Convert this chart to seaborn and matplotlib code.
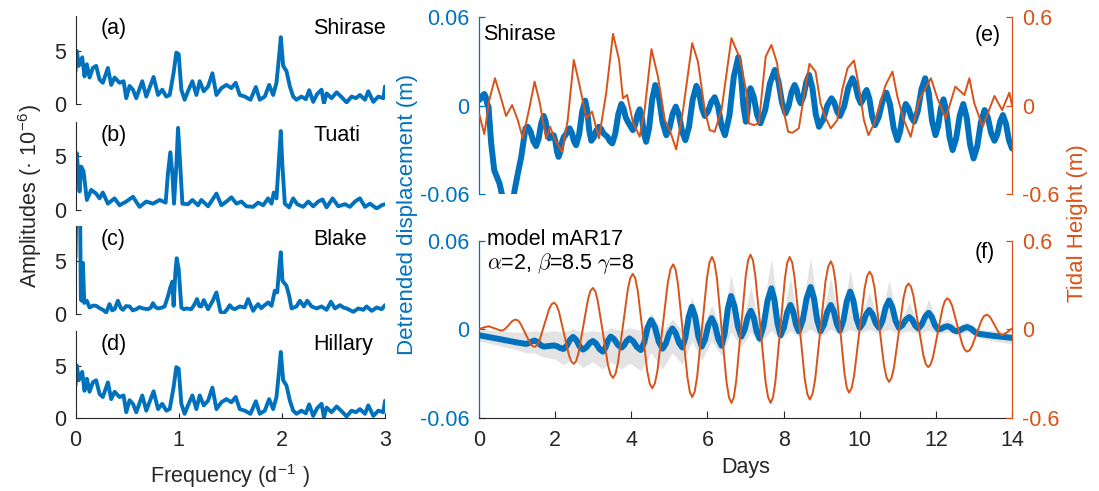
import matplotlib
matplotlib.use("Agg")
import matplotlib.pyplot as plt
import seaborn as sns

sns.set_style("white")
plt.rcParams["font.family"] = ["Liberation Sans", "DejaVu Sans"]
plt.rcParams["mathtext.fontset"] = "cm"
plt.rcParams["lines.solid_joinstyle"] = "round"
plt.rcParams["lines.solid_capstyle"] = "round"

BLUE = "#0072BD"
ORANGE = "#D95319"
AXC = "#262626"
BAND = "#E3E3E3"
FS = 15.5

# ---------------- spectra (frequency in 1/day, amplitude x1e-6) ----------------
shirase_freq = [0.0, 0.013, 0.032, 0.065, 0.087, 0.11, 0.136, 0.168, 0.2, 0.233, 0.265, 0.314, 0.346,
                0.379, 0.427, 0.466, 0.492, 0.524, 0.557, 0.589, 0.647, 0.686, 0.757, 0.8, 0.841, 0.88,
                0.913, 0.951, 0.977, 1.0, 1.026, 1.058, 1.09, 1.133, 1.172, 1.204, 1.243, 1.285, 1.327,
                1.366, 1.414, 1.463, 1.511, 1.553, 1.592, 1.641, 1.696, 1.748, 1.786, 1.835, 1.877,
                1.916, 1.948, 1.974, 1.99, 2.013, 2.045, 2.078, 2.11, 2.142, 2.19, 2.233, 2.265, 2.304,
                2.343, 2.385, 2.408, 2.434, 2.482, 2.531, 2.579, 2.628, 2.676, 2.718, 2.757, 2.806,
                2.838, 2.887, 2.935, 2.984, 3.0]
shirase_amp = [3.1, 5.0, 3.6, 4.4, 2.6, 3.75, 2.5, 3.4, 3.6, 2.3, 2.0, 3.4, 1.8,
               2.5, 2.0, 2.15, 0.55, 1.7, 1.35, 0.55, 2.15, 0.7, 2.55, 0.85, 1.35, 0.7,
               0.85, 2.95, 4.85, 4.7, 1.35, 0.4, 1.2, 2.15, 0.85, 2.15, 1.2, 1.65, 2.9,
               0.85, 1.5, 1.8, 1.5, 2.0, 0.85, 0.7, 0.4, 1.6, 0.4, 0.7, 1.8,
               0.85, 2.0, 4.55, 6.3, 3.6, 3.1, 1.65, 0.7, 0.4, 0.7, 0.45, 1.3, 0.2,
               0.95, 1.35, 0.05, 1.0, 0.55, 1.1, 0.65, 0.15, 0.7, 0.55, 0.85, 0.4,
               1.2, 0.2, 0.7, 0.55, 1.65]

tuati_freq = [0.0, 0.013, 0.039, 0.055, 0.078, 0.11, 0.152, 0.2, 0.233, 0.265, 0.314, 0.379, 0.427,
              0.492, 0.557, 0.621, 0.686, 0.751, 0.816, 0.874, 0.896, 0.919, 0.939, 0.955, 0.977,
              0.994, 1.016, 1.036, 1.091, 1.133, 1.188, 1.22, 1.285, 1.366, 1.414, 1.463, 1.511,
              1.56, 1.608, 1.657, 1.722, 1.77, 1.819, 1.867, 1.9, 1.922, 1.948, 1.974, 1.99, 2.006,
              2.029, 2.071, 2.11, 2.149, 2.207, 2.256, 2.304, 2.353, 2.395, 2.434, 2.492, 2.547,
              2.612, 2.66, 2.709, 2.757, 2.806, 2.854, 2.919, 2.968, 3.0]
tuati_amp = [3.4, 5.3, 1.7, 4.05, 3.6, 0.9, 1.85, 1.5, 1.05, 1.6, 0.55, 1.05, 0.4,
             0.75, 1.2, 0.25, 0.75, 0.55, 0.9, 0.65, 3.4, 5.4, 3.4, 0.55, 4.05,
             7.7, 4.05, 0.55, 0.5, 0.9, 0.4, 0.9, 0.3, 1.5, 0.4, 0.75, 1.15,
             0.55, 0.75, 0.3, 0.25, 0.65, 0.4, 1.05, 0.55, 1.6, 1.05, 5.0, 7.4, 4.05,
             0.55, 0.2, 1.05, 0.5, 0.25, 0.75, 0.3, 0.75, 0.95, 0.2, 1.05, 0.3,
             0.5, 0.25, 0.75, 1.05, 0.25, 0.55, 0.1, 0.4, 0.5]

blake_freq = [0.0, 0.006, 0.045, 0.052, 0.062, 0.072, 0.085, 0.11, 0.136, 0.17, 0.2, 0.235, 0.265,
              0.298, 0.33, 0.355, 0.379, 0.411, 0.44, 0.46, 0.49, 0.524, 0.555, 0.589, 0.62, 0.654,
              0.702, 0.73, 0.751, 0.775, 0.8, 0.835, 0.864, 0.896, 0.919, 0.939, 0.951, 0.968,
              0.981, 1.0, 1.026, 1.05, 1.074, 1.123, 1.15, 1.178, 1.2, 1.22, 1.243, 1.285, 1.33,
              1.366, 1.405, 1.437, 1.47, 1.495, 1.52, 1.544, 1.592, 1.641, 1.673, 1.722, 1.745,
              1.77, 1.8, 1.819, 1.867, 1.9, 1.932, 1.955, 1.974, 1.99, 2.006, 2.045, 2.071, 2.094,
              2.142, 2.175, 2.214, 2.246, 2.288, 2.337, 2.385, 2.434, 2.476, 2.515, 2.563, 2.6,
              2.628, 2.693, 2.741, 2.79, 2.822, 2.871, 2.919, 2.968, 3.0]
blake_amp = [5.3, 9.0, 9.0, 1.3, 1.2, 4.8, 1.0, 1.2, 0.57, 0.75, 0.73, 0.5, 0.35,
             0.1, 0.89, 0.3, 0.41, 1.21, 0.5, 0.35, 0.7, 0.67, 0.3, 0.41, 0.6, 0.48,
             0.41, 0.55, 0.98, 0.6, 0.48, 0.55, 0.67, 1.62, 2.48, 3.02, 0.73, 3.9,
             5.24, 4.22, 0.57, 0.4, 0.48, 0.41, 0.8, 1.37, 0.7, 0.67, 1.27, 0.41, 1.2,
             2.0, 0.16, 0.03, 0.4, 0.79, 0.5, 0.41, 0.67, 0.57, 1.37, 0.25, 0.6,
             0.89, 0.5, 0.67, 1.05, 0.73, 2.16, 2.0, 4.22, 5.81, 3.11, 2.63, 1.68, 0.48,
             0.67, 1.21, 0.67, 1.21, 0.67, 0.48, 0.67, 0.35, 1.11, 0.48, 0.79, 0.55,
             0.48, 0.16, 0.48, 0.35, 0.67, 0.25, 0.57, 0.41, 0.79]

hillary_freq = list(shirase_freq)
hillary_amp = list(shirase_amp)

spec_names = ["Shirase", "Tuati", "Blake", "Hillary"]
spec_tags = ["(a)", "(b)", "(c)", "(d)"]
spec_freqs = [shirase_freq, tuati_freq, blake_freq, hillary_freq]
spec_amps = [shirase_amp, tuati_amp, blake_amp, hillary_amp]

# ---------------- (e) observed Shirase ----------------
obs_days = [0.0, 0.047, 0.093, 0.14, 0.177, 0.213, 0.25, 0.32, 0.40, 0.54,
            0.62, 0.75, 0.88, 0.93, 1.02, 1.11, 1.22, 1.28, 1.353, 1.427,
            1.50, 1.567, 1.633, 1.70, 1.75, 1.80, 1.85, 1.96, 2.003, 2.047,
            2.09, 2.137, 2.183, 2.23, 2.28, 2.33, 2.38, 2.437, 2.493, 2.55,
            2.63, 2.71, 2.79, 2.843, 2.897, 2.95, 3.017, 3.083, 3.15, 3.207,
            3.263, 3.32, 3.38, 3.44, 3.50, 3.58, 3.66, 3.74, 3.797, 3.853,
            3.91, 4.04, 4.10, 4.16, 4.22, 4.277, 4.333, 4.39, 4.47, 4.55,
            4.63, 4.727, 4.823, 4.92, 5.003, 5.087, 5.17, 5.253, 5.337, 5.42,
            5.517, 5.613, 5.71, 5.783, 5.857, 5.93, 6.017, 6.103, 6.19, 6.28,
            6.37, 6.46, 6.577, 6.693, 6.81, 6.877, 6.943, 7.01, 7.05, 7.09,
            7.13, 7.217, 7.303, 7.39, 7.517, 7.643, 7.77, 7.863, 7.957, 8.05,
            8.13, 8.21, 8.29, 8.343, 8.397, 8.45, 8.523, 8.597, 8.67, 8.757,
            8.843, 8.93, 9.04, 9.15, 9.26, 9.333, 9.407, 9.48, 9.59, 9.70,
            9.81, 9.883, 9.957, 10.03, 10.08, 10.13, 10.18, 10.253, 10.327, 10.40,
            10.50, 10.60, 10.70, 10.797, 10.893, 10.99, 11.063, 11.137, 11.21, 11.283,
            11.357, 11.43, 11.527, 11.623, 11.72, 11.81, 11.90, 11.99, 12.06, 12.13,
            12.20, 12.28, 12.36, 12.44, 12.533, 12.627, 12.72, 12.81, 12.90, 12.99,
            13.087, 13.183, 13.28, 13.367, 13.453, 13.54, 13.613, 13.687, 13.76, 13.84,
            13.92, 14.0]
obs_disp = [0.0039, 0.0049, 0.0070, 0.0080, 0.0059, 0.0016, -0.0006, -0.0255, -0.0437, -0.0527,
            -0.062, -0.075, -0.068, -0.058, -0.046, -0.0346, -0.0153, -0.0142, -0.0175, -0.0240,
            -0.0273, -0.0222, -0.0120, -0.0069, -0.0107, -0.0183, -0.0221, -0.0199, -0.0236, -0.0309,
            -0.0346, -0.0312, -0.0244, -0.0210, -0.0196, -0.0167, -0.0153, -0.0182, -0.0239, -0.0267,
            -0.0192, -0.0041, 0.0035, -0.0033, -0.0169, -0.0237, -0.0213, -0.0166, -0.0142, -0.0156,
            -0.0185, -0.0199, -0.0213, -0.0241, -0.0255, -0.0188, -0.0055, 0.0012, -0.0018, -0.0078,
            -0.0108, -0.0165, -0.0130, -0.0059, -0.0024, -0.0079, -0.0189, -0.0244, -0.0148, 0.0045,
            0.0141, 0.0056, -0.0114, -0.0199, -0.0151, -0.0054, -0.0006, -0.0063, -0.0176, -0.0233,
            -0.0141, 0.0043, 0.0135, 0.0084, -0.0018, -0.0069, -0.0037, 0.0026, 0.0058, -0.0006,
            -0.0135, -0.0199, -0.0067, 0.0198, 0.0330, 0.0221, 0.0002, -0.0108, -0.0051, 0.0062,
            0.0119, 0.0060, -0.0060, -0.0119, -0.0029, 0.0153, 0.0243, 0.0170, 0.0023, -0.0051,
            -0.0003, 0.0093, 0.0141, 0.0110, 0.0048, 0.0017, 0.0065, 0.0161, 0.0209, 0.0121,
            -0.0054, -0.0142, -0.0094, 0.0003, 0.0051, 0.0021, -0.0039, -0.0069, -0.0005, 0.0123,
            0.0187, 0.0145, 0.0060, 0.0017, 0.0040, 0.0085, 0.0107, 0.0048, -0.0072, -0.0131,
            -0.0076, 0.0034, 0.0089, 0.0009, -0.0153, -0.0233, -0.0172, -0.0049, 0.0012, -0.0018,
            -0.0078, -0.0108, -0.0034, 0.0113, 0.0187, 0.0091, -0.0103, -0.0199, -0.0138, -0.0017,
            0.0044, -0.0042, -0.0214, -0.0300, -0.0222, -0.0066, 0.0012, -0.0080, -0.0265, -0.0357,
            -0.0275, -0.0111, -0.0029, -0.0081, -0.0185, -0.0237, -0.0194, -0.0107, -0.0063, -0.0120,
            -0.0233, -0.0289]

obs_tide_days = [0.0, 0.14, 0.27, 0.42, 0.58, 0.71, 0.87, 1.02, 1.15, 1.33, 1.46, 1.59, 1.76, 1.87,
                 1.98, 2.18, 2.33, 2.49, 2.64, 2.82, 2.97, 3.15, 3.34, 3.52, 3.68, 3.78, 3.89, 4.04,
                 4.22, 4.35, 4.53, 4.70, 4.88, 5.01, 5.18, 5.36, 5.60, 5.75, 5.93, 6.06, 6.19, 6.37,
                 6.63, 6.85, 7.03, 7.09, 7.22, 7.35, 7.53, 7.68, 7.83, 7.96, 8.12, 8.23, 8.40, 8.56,
                 8.68, 8.84, 8.97, 9.11, 9.24, 9.41, 9.54, 9.68, 9.85, 9.98, 10.11, 10.23, 10.38,
                 10.68, 10.86, 10.99, 11.16, 11.34, 11.56, 11.87, 12.04, 12.26, 12.51, 12.75, 12.88,
                 13.01, 13.23, 13.54, 13.74, 13.93, 14.0]
obs_tide = [-0.051, -0.192, 0.039, 0.187, 0.051, -0.069, 0.005, -0.097, -0.221, -0.006, 0.164, 0.028,
            -0.221, -0.142, -0.221, -0.312, -0.097, 0.311, 0.141, -0.085, -0.040, -0.221, 0.085,
            0.488, 0.311, 0.051, 0.073, -0.108, -0.210, -0.029, 0.384, 0.198, -0.097, -0.165,
            -0.296, -0.029, 0.425, 0.300, -0.029, -0.165, -0.176, -0.029, 0.459, 0.323, 0.085,
            -0.119, -0.131, -0.119, 0.334, 0.413, 0.289, 0.017, -0.176, -0.183, -0.153, 0.107,
            0.284, 0.232, 0.017, -0.085, -0.153, -0.097, 0.107, 0.255, 0.307, 0.130, -0.097,
            -0.199, -0.119, 0.141, 0.232, 0.062, -0.097, -0.210, 0.039, 0.187, 0.051, -0.085,
            0.130, 0.073, 0.187, 0.017, -0.142, 0.067, -0.029, 0.089, 0.005]

# ---------------- (f) model mAR17 ----------------
mod_days = [0.0, 0.5, 1.0, 1.24, 1.313, 1.387, 1.46, 1.54, 1.62, 1.70,
            1.97, 2.053, 2.137, 2.22, 2.303, 2.387, 2.47, 2.557, 2.643, 2.73,
            2.817, 2.903, 2.99, 3.077, 3.163, 3.25, 3.32, 3.39, 3.46, 3.553,
            3.647, 3.74, 3.81, 3.88, 3.95, 4.05, 4.15, 4.25, 4.34, 4.43,
            4.52, 4.62, 4.72, 4.82, 4.907, 4.993, 5.08, 5.167, 5.253, 5.34,
            5.423, 5.507, 5.59, 5.677, 5.763, 5.85, 5.937, 6.023, 6.11, 6.197,
            6.283, 6.37, 6.453, 6.537, 6.62, 6.71, 6.80, 6.89, 6.973, 7.057,
            7.14, 7.217, 7.293, 7.37, 7.473, 7.577, 7.68, 7.76, 7.84, 7.92,
            8.007, 8.093, 8.18, 8.253, 8.327, 8.40, 8.503, 8.607, 8.71, 8.797,
            8.883, 8.97, 9.06, 9.15, 9.24, 9.32, 9.40, 9.48, 9.57, 9.66,
            9.75, 9.833, 9.917, 10.00, 10.083, 10.167, 10.25, 10.337, 10.423, 10.51,
            10.597, 10.683, 10.77, 10.857, 10.943, 11.03, 11.12, 11.21, 11.30, 11.38,
            11.46, 11.54, 11.63, 11.72, 11.81, 11.893, 11.977, 12.06, 12.143, 12.227,
            12.31, 12.387, 12.463, 12.54, 12.633, 12.727, 12.82, 12.927, 13.033, 13.14,
            13.50, 14.0]
mod_disp = [-0.0041, -0.0065, -0.0090, -0.0100, -0.0094, -0.0083, -0.0077, -0.0087, -0.0108, -0.0118,
            -0.0110, -0.0116, -0.0128, -0.0134, -0.0114, -0.0073, -0.0052, -0.0074, -0.0117, -0.0138,
            -0.0124, -0.0095, -0.0080, -0.0098, -0.0134, -0.0152, -0.0127, -0.0076, -0.0050, -0.0069,
            -0.0106, -0.0125, -0.0109, -0.0078, -0.0062, -0.0082, -0.0121, -0.0141, -0.0090, 0.0011,
            0.0062, 0.0014, -0.0084, -0.0132, -0.0098, -0.0029, 0.0005, -0.0027, -0.0092, -0.0124,
            -0.0055, 0.0083, 0.0152, 0.0085, -0.0051, -0.0118, -0.0070, 0.0027, 0.0075, 0.0028,
            -0.0065, -0.0112, -0.0028, 0.0141, 0.0225, 0.0156, 0.0019, -0.0050, -0.0006, 0.0081,
            0.0125, 0.0078, -0.0017, -0.0064, 0.0021, 0.0192, 0.0277, 0.0198, 0.0039, -0.0041,
            0.0010, 0.0113, 0.0164, 0.0120, 0.0031, -0.0014, 0.0061, 0.0211, 0.0286, 0.0211,
            0.0061, -0.0014, 0.0031, 0.0120, 0.0164, 0.0121, 0.0034, -0.0009, 0.0057, 0.0189,
            0.0255, 0.0194, 0.0071, 0.0009, 0.0039, 0.0100, 0.0130, 0.0100, 0.0039, 0.0009,
            0.0056, 0.0149, 0.0195, 0.0149, 0.0056, 0.0009, 0.0027, 0.0064, 0.0082, 0.0063,
            0.0024, 0.0005, 0.0032, 0.0085, 0.0111, 0.0083, 0.0026, -0.0002, 0.0004, 0.0015,
            0.0020, 0.0012, -0.0006, -0.0014, -0.0007, 0.0007, 0.0014, 0.0003, -0.0021, -0.0032,
            -0.0045, -0.0059]

band_days = [0.0, 0.5, 1.0, 1.24, 1.46, 1.70, 1.97, 2.22, 2.47, 2.73, 2.99, 3.25, 3.46, 3.74, 3.95,
             4.25, 4.52, 4.82, 5.08, 5.34, 5.59, 5.85, 6.11, 6.37, 6.62, 6.89, 7.14, 7.37, 7.68, 7.92,
             8.18, 8.40, 8.71, 8.97, 9.24, 9.48, 9.75, 10.00, 10.25, 10.51, 10.77, 11.03, 11.30,
             11.54, 11.81, 12.06, 12.31, 12.54, 12.82, 13.14, 13.50, 14.0]
band_lo = [-0.008, -0.011, -0.014, -0.016, -0.016, -0.019, -0.020, -0.024, -0.020, -0.026, -0.022,
           -0.027, -0.022, -0.027, -0.023, -0.028, -0.016, -0.027, -0.016, -0.024, -0.008, -0.021,
           -0.008, -0.018, -0.002, -0.012, -0.002, -0.010, -0.001, -0.007, -0.001, -0.005, 0.000,
           -0.005, 0.000, -0.004, 0.000, -0.003, 0.000, -0.003, 0.000, -0.003, -0.001, -0.003,
           -0.001, -0.003, -0.002, -0.004, -0.002, -0.006, -0.008, -0.010]
band_hi = [0.000, -0.001, -0.002, -0.002, -0.001, -0.002, -0.001, -0.002, 0.000, -0.002, -0.001,
           -0.002, 0.001, -0.001, 0.001, -0.001, 0.011, -0.001, 0.007, -0.001, 0.022, 0.000, 0.016,
           0.000, 0.037, 0.001, 0.029, 0.001, 0.048, 0.001, 0.035, 0.002, 0.048, 0.002, 0.035,
           0.002, 0.040, 0.003, 0.025, 0.003, 0.033, 0.003, 0.018, 0.003, 0.020, 0.003, 0.007,
           0.002, 0.005, 0.000, -0.001, -0.002]

mod_tide_days = [0.0, 0.125, 0.25, 0.415, 0.58, 0.629, 0.68, 0.78, 0.87, 0.921,
                 0.97, 1.031, 1.09, 1.215, 1.34, 1.399, 1.46, 1.524, 1.59, 1.715,
                 1.84, 1.906, 1.97, 2.035, 2.10, 2.23, 2.36, 2.425, 2.49, 2.553,
                 2.615, 2.74, 2.865, 2.928, 2.99, 3.056, 3.12, 3.255, 3.385, 3.454,
                 3.52, 3.585, 3.65, 3.78, 3.91, 3.975, 4.04, 4.104, 4.17, 4.295,
                 4.42, 4.486, 4.55, 4.619, 4.69, 4.825, 4.96, 5.031, 5.10, 5.163,
                 5.225, 5.35, 5.475, 5.538, 5.60, 5.665, 5.73, 5.86, 5.99, 6.055,
                 6.12, 6.184, 6.25, 6.375, 6.50, 6.566, 6.63, 6.693, 6.755, 6.88,
                 7.005, 7.068, 7.13, 7.196, 7.26, 7.395, 7.525, 7.594, 7.66, 7.723,
                 7.785, 7.91, 8.035, 8.098, 8.16, 8.226, 8.29, 8.425, 8.555, 8.624,
                 8.69, 8.759, 8.83, 8.965, 9.10, 9.171, 9.24, 9.30, 9.36, 9.48,
                 9.60, 9.66, 9.72, 9.788, 9.855, 9.99, 10.125, 10.193, 10.26, 10.324,
                 10.39, 10.515, 10.64, 10.706, 10.77, 10.834, 10.90, 11.025, 11.15, 11.216,
                 11.28, 11.345, 11.41, 11.54, 11.67, 11.735, 11.80, 11.863, 11.925, 12.05,
                 12.175, 12.238, 12.30, 12.365, 12.43, 12.56, 12.69, 12.755, 12.82, 12.884,
                 12.95, 13.075, 13.20, 13.266, 13.33, 13.383, 13.435, 13.54, 13.645, 13.698,
                 13.75, 13.875, 14.0]
mod_tide = [0.000, 0.012, 0.020, 0.005, -0.010, -0.007, 0.001, 0.028, 0.054, 0.062,
            0.065, 0.058, 0.038, -0.028, -0.093, -0.113, -0.120, -0.109, -0.076, 0.030,
            0.136, 0.169, 0.180, 0.164, 0.119, -0.028, -0.174, -0.219, -0.235, -0.215,
            -0.160, 0.022, 0.205, 0.260, 0.280, 0.257, 0.191, -0.025, -0.241, -0.307,
            -0.330, -0.303, -0.227, 0.022, 0.272, 0.348, 0.375, 0.346, 0.261, -0.012,
            -0.286, -0.371, -0.400, -0.368, -0.277, 0.020, 0.317, 0.408, 0.440, 0.406,
            0.308, -0.010, -0.328, -0.426, -0.460, -0.424, -0.321, 0.015, 0.351, 0.454,
            0.490, 0.452, 0.345, -0.005, -0.355, -0.462, -0.500, -0.462, -0.353, 0.003,
            0.358, 0.467, 0.505, 0.467, 0.358, 0.003, -0.353, -0.462, -0.500, -0.462,
            -0.355, -0.005, 0.345, 0.452, 0.490, 0.453, 0.348, 0.007, -0.335, -0.440,
            -0.477, -0.441, -0.340, -0.009, 0.323, 0.424, 0.460, 0.426, 0.330, 0.015,
            -0.300, -0.396, -0.430, -0.399, -0.310, -0.020, 0.270, 0.359, 0.390, 0.362,
            0.281, 0.017, -0.248, -0.329, -0.357, -0.332, -0.259, -0.024, 0.212, 0.285,
            0.310, 0.289, 0.227, 0.027, -0.174, -0.236, -0.257, -0.239, -0.189, -0.024,
            0.142, 0.192, 0.210, 0.196, 0.157, 0.029, -0.099, -0.138, -0.152, -0.143,
            -0.115, -0.027, 0.061, 0.089, 0.098, 0.093, 0.078, 0.029, -0.020, -0.035,
            -0.040, -0.020, 0.005]

disp_ticks = [-0.06, 0.0, 0.06]
disp_labels = ["-0.06", "0", "0.06"]
tide_ticks = [-0.6, 0.0, 0.6]
tide_labels = ["-0.6", "0", "0.6"]
day_ticks = [0, 2, 4, 6, 8, 10, 12, 14]
freq_ticks = [0, 1, 2, 3]
amp_ticks = [0, 5]

# ---------------- layout ----------------
W, H = 1099, 491
fig = plt.figure(figsize=(W / 100, H / 100), dpi=100)


def rect(x0, y0, x1, y1):
    return [x0 / W, 1 - y1 / H, (x1 - x0) / W, (y1 - y0) / H]


def ftext(x, y, s, **kw):
    fig.text(x / W, 1 - y / H, s, fontsize=kw.pop("fontsize", FS), **kw)


def clean(ax):
    for s in ax.spines.values():
        s.set_visible(False)
    ax.grid(False)
    ax.set_facecolor("none")


spec_rows = [(16, 104), (121.5, 209.5), (226, 313.5), (331, 418)]
spec_base = [34, 141, 245, 350]
for i in range(4):
    top, bot = spec_rows[i]
    ax = fig.add_axes(rect(75.5, top, 385, bot))
    clean(ax)
    sns.lineplot(x=spec_freqs[i], y=spec_amps[i], ax=ax, color=BLUE, linewidth=2.8,
                 estimator=None, sort=False)
    ax.set_xlim(0, 3)
    ax.set_ylim(0, 8.3)
    ax.spines["left"].set_visible(True)
    ax.spines["left"].set_color(AXC)
    ax.spines["left"].set_linewidth(0.8)
    ax.set_yticks(amp_ticks)
    ax.set_yticklabels([str(t) for t in amp_ticks])
    ax.tick_params(axis="y", direction="in", length=3.5, width=0.8, colors=AXC,
                   labelsize=FS, pad=7, left=True)
    ax.set_xlabel("")
    ax.set_ylabel("")
    if i < 3:
        ax.xaxis.set_visible(False)
    else:
        ax.spines["bottom"].set_visible(True)
        ax.spines["bottom"].set_color(AXC)
        ax.spines["bottom"].set_linewidth(0.8)
        ax.set_xticks(freq_ticks)
        ax.set_xticklabels([str(t) for t in freq_ticks])
        ax.tick_params(axis="x", direction="in", length=3.5, width=0.8, colors=AXC,
                       labelsize=FS, pad=9, bottom=True)
    ftext(101, spec_base[i], spec_tags[i], color="black", va="baseline", ha="left")
    ftext(313, spec_base[i], spec_names[i], color="black", va="baseline", ha="left")

ftext(30, 196, r"Amplitudes (· 10$^{\mathregular{-6}}$)", rotation=90, ha="center", va="center",
      color=AXC)
ftext(230, 476, r"Frequency (d$^{\mathregular{-1}}$ )", ha="center", va="center", color=AXC)


def right_panel(top, bot, with_x):
    ax = fig.add_axes(rect(479, top, 1012, bot))
    clean(ax)
    ax.spines["left"].set_visible(True)
    ax.spines["left"].set_color(BLUE)
    ax.spines["left"].set_linewidth(0.9)
    ax.set_xlim(0, 14)
    ax.set_ylim(-0.06, 0.06)
    ax.set_yticks(disp_ticks)
    ax.set_yticklabels(disp_labels)
    ax.tick_params(axis="y", direction="in", length=4, width=0.9, colors=BLUE,
                   labelsize=FS, pad=7, left=True)
    ax2 = ax.twinx()
    clean(ax2)
    ax2.spines["right"].set_visible(True)
    ax2.spines["right"].set_color(ORANGE)
    ax2.spines["right"].set_linewidth(0.9)
    ax2.set_ylim(-0.6, 0.6)
    ax2.set_yticks(tide_ticks)
    ax2.set_yticklabels(tide_labels)
    ax2.tick_params(axis="y", direction="in", length=4, width=0.9, colors=ORANGE,
                    labelsize=FS, pad=7, right=True)
    if with_x:
        ax.spines["bottom"].set_visible(True)
        ax.spines["bottom"].set_color(AXC)
        ax.spines["bottom"].set_linewidth(0.8)
        ax.set_xticks(day_ticks)
        ax.set_xticklabels([str(t) for t in day_ticks])
        ax.tick_params(axis="x", direction="in", length=5, width=0.8, colors=AXC,
                       labelsize=FS, pad=9, bottom=True)
    else:
        ax.xaxis.set_visible(False)
    ax2.xaxis.set_visible(False)
    return ax, ax2


ax_e, ax_e2 = right_panel(17.3, 194.3, False)
sns.lineplot(x=obs_days, y=obs_disp, ax=ax_e, color=BLUE, linewidth=4.3, estimator=None, sort=False)
sns.lineplot(x=obs_tide_days, y=obs_tide, ax=ax_e2, color=ORANGE, linewidth=1.4, estimator=None,
             sort=False)
for a in (ax_e, ax_e2):
    a.set_xlabel("")
    a.set_ylabel("")
ax_e.set_xlim(0, 14)

ax_f, ax_f2 = right_panel(240.7, 417.7, True)
ax_f.fill_between(band_days, band_lo, band_hi, color=BAND, linewidth=0, zorder=1)
sns.lineplot(x=mod_days, y=mod_disp, ax=ax_f, color=BLUE, linewidth=4.3, estimator=None, sort=False,
             zorder=2)
sns.lineplot(x=mod_tide_days, y=mod_tide, ax=ax_f2, color=ORANGE, linewidth=1.4, estimator=None,
             sort=False)
for a in (ax_f, ax_f2):
    a.set_xlabel("")
    a.set_ylabel("")
ax_f.set_xlim(0, 14)

ftext(483, 40, "Shirase", color="black", va="baseline", ha="left")
ftext(975, 40.5, "(e)", color="black", va="baseline", ha="left")
ftext(487, 245, "model mAR17", color="black", va="baseline", ha="left")
ftext(487, 268.5, r"$\alpha$=2, $\beta$=8.5 $\gamma$=8", color="black", va="baseline", ha="left")
ftext(975, 258, "(f)", color="black", va="baseline", ha="left")

ftext(407, 214, "Detrended displacement (m)", rotation=90, ha="center", va="center", color=BLUE,
      fontsize=16)
ftext(1077, 223, "Tidal Height (m)", rotation=90, ha="center", va="center", color=ORANGE, fontsize=16)
ftext(746, 467, "Days", ha="center", va="center", color=AXC)

fig.savefig("out.png", dpi=100)
